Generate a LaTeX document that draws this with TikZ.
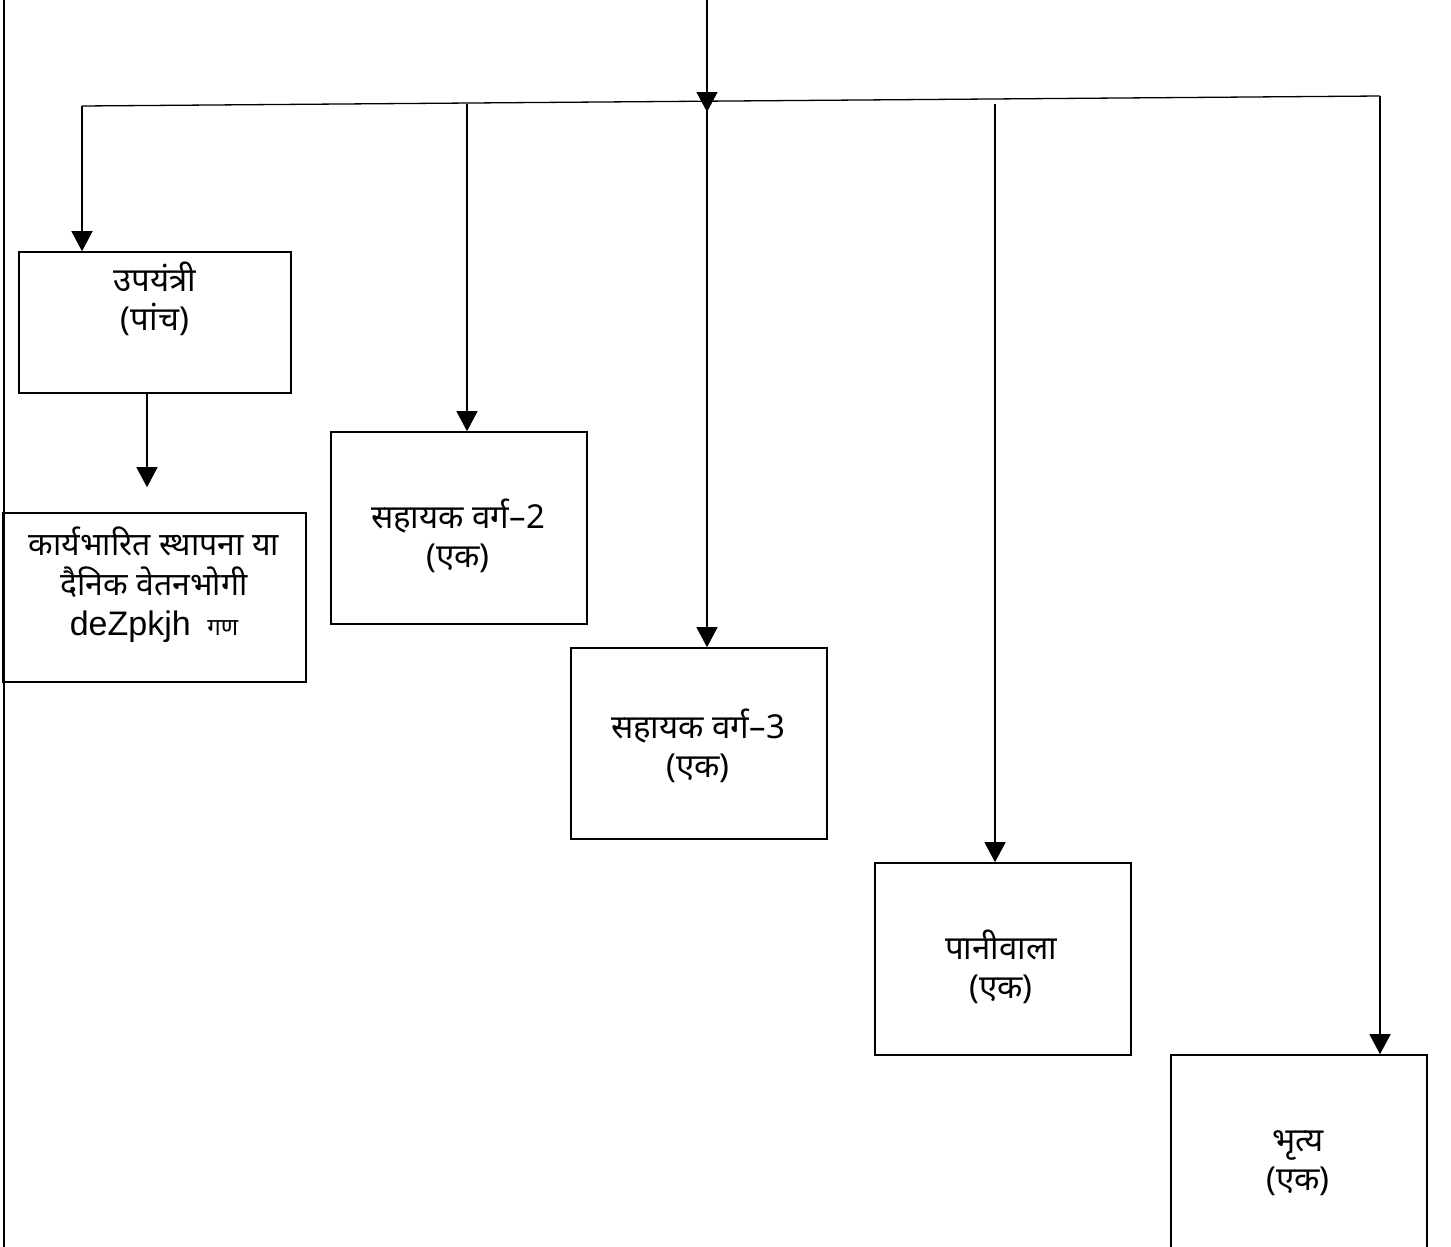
\documentclass[tikz,border=0pt]{standalone}
\usepackage{fontspec}
\newfontfamily\hindi[Script=Devanagari]{Noto Sans}
\newfontfamily\latinf{Liberation Sans}
\usetikzlibrary{arrows.meta}
\begin{document}
\begin{tikzpicture}[x=1pt,y=-1pt,
  box/.style={draw,line width=1.6pt,rectangle,inner sep=0pt},
  lbl/.style={font=\hindi\fontsize{33}{39}\selectfont,align=center,anchor=base,inner sep=0pt},
  conn/.style={line width=1.3pt},
  arr/.style={line width=1.3pt,-{Triangle[width=21pt,length=20pt]}}]
\useasboundingbox (0,0) rectangle (1451,1247);
\clip (0,0) rectangle (1451,1247);
% boxes
\node[box,minimum width=272pt,minimum height=141pt] (b1) at (155,322.5) {};
\node[box,minimum width=303pt,minimum height=169pt] (b2) at (154.5,597.5) {};
\node[box,minimum width=256pt,minimum height=192pt] (b3) at (459,528) {};
\node[box,minimum width=256pt,minimum height=191pt] (b4) at (699,743.5) {};
\node[box,minimum width=256pt,minimum height=192pt] (b5) at (1003,959) {};
\node[box,minimum width=256pt,minimum height=220pt] (b6) at (1299,1165) {};
% labels (anchor base = baseline of last line)
\node[lbl] (t1) at (155,330) {उपयंत्री\\(पांच)};
\node[lbl,font=\hindi\fontsize{32}{40}\selectfont] (t2) at (154,635) {कार्यभारित स्थापना या\\दैनिक वेतनभोगी\\{\latinf\fontsize{34}{40}\selectfont deZpkjh}\ \ {\fontsize{24}{40}\selectfont गण}};
\node[lbl] (t3) at (458,567) {सहायक वर्ग–2\\(एक)};
\node[lbl] (t4) at (698,777) {सहायक वर्ग–3\\(एक)};
\node[lbl] (t5) at (1001,998) {पानीवाला\\(एक)};
\node[lbl] (t6) at (1298,1190) {भृत्य\\(एक)};
% coordinates
\coordinate (top) at (707,0);
\coordinate (jn) at (707,101);
\coordinate (hl) at (82,106);
\coordinate (hr) at (1380,96);
\coordinate (s3) at (467,104);
\coordinate (s5) at (995,104);
\coordinate (lt) at (4,0);
\coordinate (lb) at (4,1247);
% connectors
\draw[line width=2pt] (lt) -- (lb);
\draw[conn] (hl) -- (hr);
\draw[arr] (top) -- ([yshift=-11pt]jn);
\draw[arr] (jn) -- (b4.north -| jn);
\draw[arr] (hl) -- (b1.north -| hl);
\draw[arr] (hr) -- (b6.north -| hr);
\draw[arr] (s3) -- (b3.north -| s3);
\draw[arr] (s5) -- (b5.north -| s5);
\draw[arr,shorten >=25pt] (b1.south -| 147,0) -- (b2.north -| 147,0);
\end{tikzpicture}
\end{document}
